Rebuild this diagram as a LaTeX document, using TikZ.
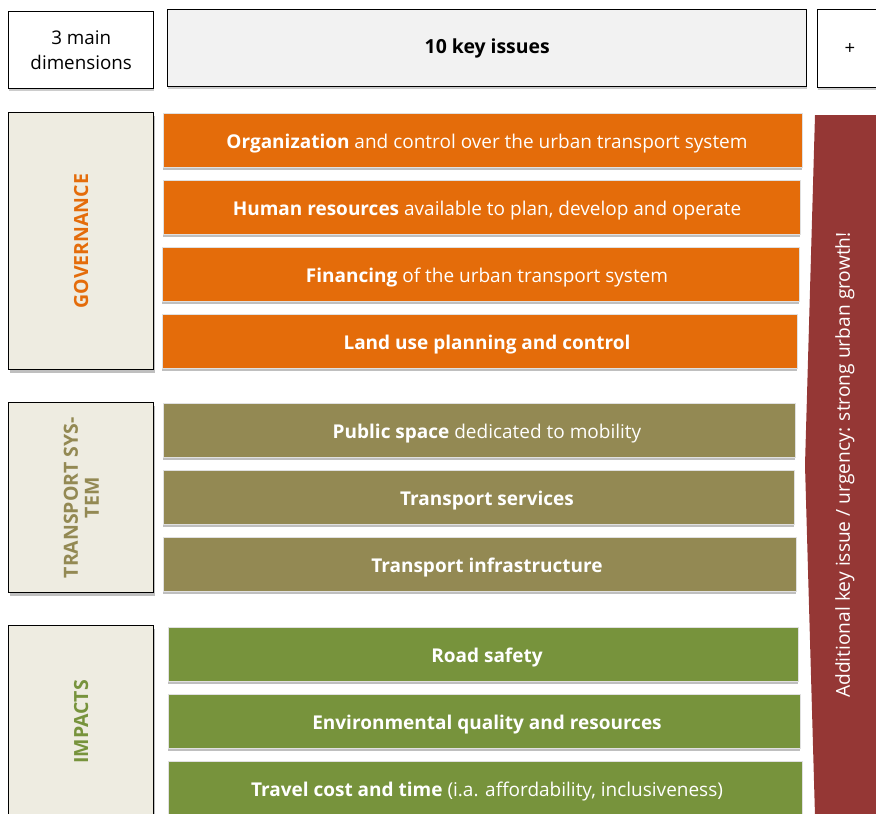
\documentclass[tikz,border=0pt]{standalone}
\usepackage{fontspec}
\setmainfont{Open Sans}
\usetikzlibrary{shadows}
\definecolor{govC}{HTML}{E46C0A}
\definecolor{traC}{HTML}{938953}
\definecolor{impC}{HTML}{77933C}
\definecolor{urgC}{HTML}{953735}
\definecolor{beigeC}{HTML}{EEECE1}
\definecolor{headC}{HTML}{F2F2F2}
\begin{document}
\begin{tikzpicture}[x=1pt,y=-1pt,
  bar/.style={anchor=north west, minimum height=54pt, inner sep=0pt,
    draw=white!88!black, line width=0.6pt,
    drop shadow={shadow xshift=0pt, shadow yshift=-3pt, opacity=0.25, fill=black}},
  bartext/.style={inner sep=0pt, anchor=base, text=white, font=\fontsize{19}{21}\selectfont},
  dimbox/.style={anchor=north west, minimum width=145pt, inner sep=0pt, draw=black,
    line width=1.4pt, fill=beigeC,
    drop shadow={shadow xshift=1pt, shadow yshift=-3pt, opacity=0.25, fill=black}},
  dimtext/.style={rotate=90, font=\bfseries\fontsize{19.5}{21}\selectfont, align=center},
  headbox/.style={anchor=north west, inner sep=0pt, draw=black, line width=1.4pt,
    font=\fontsize{18.8}{25}\selectfont, align=center,
    drop shadow={shadow xshift=0pt, shadow yshift=-2pt, opacity=0.2, fill=black}}]
\useasboundingbox (0,0) rectangle (876,814);
% header
\node[headbox, fill=white, minimum width=145pt, minimum height=77pt] (h1) at (8,11) {3 main\\dimensions};
\node[headbox, fill=headC, minimum width=639pt, minimum height=77pt, font=\bfseries\fontsize{19.4}{22}\selectfont] (h2) at (167,9) {10 key issues};
\node[headbox, fill=white, minimum width=80pt, minimum height=78pt] (h3) at (817,9) {};
\node[font=\fontsize{18.5}{22}\selectfont] (plus) at (850,49) {+};
% dimension boxes
\node[dimbox, minimum height=257pt] (gov) at (8,112) {};
\node[dimtext, text=govC] (govt) at (gov.center) {GOVERNANCE};
\node[dimbox, minimum height=190pt] (tra) at (8,402) {};
\node[dimtext, text=traC] (trat) at (tra.center) {TRANSPORT SYS-\\TEM};
\node[dimbox, minimum height=210pt] (imp) at (8,625) {};
\node[dimtext, text=impC] (impt) at ([yshift=-97pt]imp.north) {IMPACTS};
% urgency shape
\coordinate (u1) at (815,115);
\coordinate (u2) at (880,115);
\coordinate (u3) at (880,820);
\coordinate (u4) at (815,816);
\coordinate (u5) at (805,465);
\fill[urgC] (u1) -- (u2) -- (u3) -- (u4) -- (u5) -- cycle;
\node[rotate=90, text=white, font=\fontsize{19.2}{21}\selectfont] (urg) at (845,465) {Additional key issue / urgency: strong urban growth!};
% key issue bars
\node[bar, fill=govC, minimum width=639pt] (k1) at (163,113) {};
\node[bar, fill=govC, minimum width=637pt] (k2) at (163,180) {};
\node[bar, fill=govC, minimum width=637pt] (k3) at (162,247) {};
\node[bar, fill=govC, minimum width=635pt] (k4) at (162,314) {};
\node[bar, fill=traC, minimum width=632pt] (k5) at (163,403) {};
\node[bar, fill=traC, minimum width=631pt] (k6) at (163,470) {};
\node[bar, fill=traC, minimum width=633pt] (k7) at (163,537) {};
\node[bar, fill=impC, minimum width=630pt] (k8) at (168,627) {};
\node[bar, fill=impC, minimum width=632pt] (k9) at (168,694) {};
\node[bar, fill=impC, minimum width=634pt] (k10) at (168,761) {};
\node[bartext] (t1) at (487,148) {\textbf{Organization} and control over the urban transport system};
\node[bartext] (t2) at (487,215) {\textbf{Human resources} available to plan, develop and operate};
\node[bartext] (t3) at (487,282) {\textbf{Financing} of the urban transport system};
\node[bartext] (t4) at (487,349) {\textbf{Land use planning and control}};
\node[bartext] (t5) at (487,438) {\textbf{Public space} dedicated to mobility};
\node[bartext] (t6) at (487,505) {\textbf{Transport services}};
\node[bartext] (t7) at (487,572) {\textbf{Transport infrastructure}};
\node[bartext] (t8) at (487,662) {\textbf{Road safety}};
\node[bartext] (t9) at (487,729) {\textbf{Environmental quality and resources}};
\node[bartext] (t10) at (487,796) {\textbf{Travel cost and time} (i.a. affordability, inclusiveness)};
\end{tikzpicture}
\end{document}
